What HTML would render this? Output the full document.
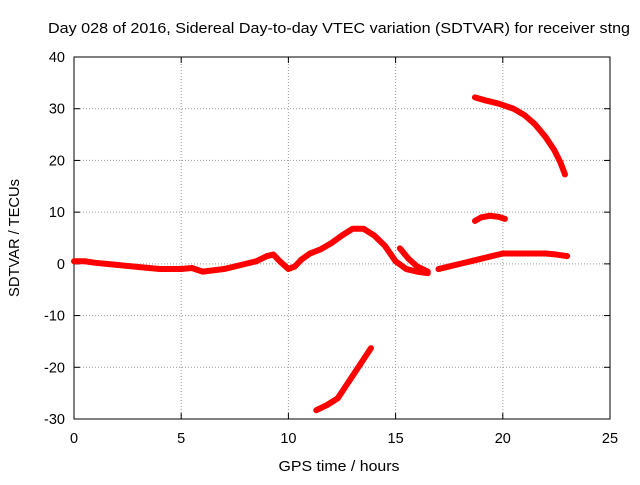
<!DOCTYPE html>
<html><head><meta charset="utf-8"><style>
body{margin:0;background:#fff}
text{font-family:"Liberation Sans",sans-serif;font-size:14.5px;fill:#000}
</style></head><body>
<svg width="640" height="480" xmlns="http://www.w3.org/2000/svg">
<rect width="640" height="480" fill="#fff"/>
<text x="339" y="33" text-anchor="middle" textLength="582" lengthAdjust="spacingAndGlyphs">Day 028 of 2016, Sidereal Day-to-day VTEC variation (SDTVAR) for receiver stng</text>
<g id="grid"></g>
<g id="axes"></g>
<g id="series"></g>
<text x="339" y="471" text-anchor="middle" textLength="121" lengthAdjust="spacingAndGlyphs">GPS time / hours</text>
<text transform="translate(19,238) rotate(-90)" text-anchor="middle" textLength="118" lengthAdjust="spacingAndGlyphs">SDTVAR / TECUs</text>
</svg>
<script>
const xTicks=[0,5,10,15,20,25];
const yTicks=[-30,-20,-10,0,10,20,30,40];
const mainHours=[0,0.5,1,2,3,4,5,5.5,6,7,8,8.5,9,9.3,9.6,10,10.3,10.6,11,11.5,12,12.5,13,13.5,14,14.5,15,15.5,16,16.5];
const mainVals=[0.5,0.5,0.2,-0.2,-0.6,-1,-1,-0.8,-1.5,-1,0,0.5,1.5,1.8,0.5,-1,-0.5,0.8,2,2.8,4,5.5,6.8,6.8,5.5,3.5,0.5,-1,-1.5,-1.8];
const branchHours=[15.2,15.6,16,16.5];
const branchVals=[3,1,-0.5,-1.5];
const lateHours=[17,17.5,18,18.5,19,19.5,20,20.5,21,21.5,22,22.5,23];
const lateVals=[-1,-0.5,0,0.5,1,1.5,2,2,2,2,2,1.8,1.5];
const topHours=[18.7,19.2,19.8,20.5,21,21.5,22,22.4,22.7,22.9];
const topVals=[32.2,31.6,31,30,28.8,27,24.5,22,19.5,17.3];
const midHours=[18.7,19,19.4,19.8,20.1];
const midVals=[8.3,9,9.3,9.1,8.7];
const lowHours=[11.3,11.8,12.3,12.7,13.1,13.5,13.85];
const lowVals=[-28.3,-27.3,-26,-23.5,-21,-18.5,-16.3];
const X0=74,X1=610,Y0=419,Y1=57;
const sx=v=>X0+(v-0)/25*(X1-X0);
const sy=v=>Y0-(v+30)/70*(Y0-Y1);
const NS="http://www.w3.org/2000/svg";
function mk(t,a,p){const e=document.createElementNS(NS,t);for(const k in a)e.setAttribute(k,a[k]);p.appendChild(e);return e;}
const grid=document.getElementById('grid'),axes=document.getElementById('axes'),ser=document.getElementById('series');
xTicks.forEach(t=>{
 if(t>0&&t<25){const l=mk('line',{x1:sx(t),x2:sx(t),y1:Y0,y2:Y1,stroke:'#999','stroke-dasharray':'1,2','stroke-width':1},grid);
 }
 const tx=mk('text',{x:sx(t),y:Y0+24,'text-anchor':'middle'},axes);tx.textContent=t;
 
 mk('line',{x1:sx(t),x2:sx(t),y1:Y0,y2:Y0-6,stroke:'#000'},axes);
 mk('line',{x1:sx(t),x2:sx(t),y1:Y1,y2:Y1+6,stroke:'#000'},axes);
});
yTicks.forEach(t=>{
 if(t>-30&&t<40){const l=mk('line',{x1:X0,x2:X1,y1:sy(t),y2:sy(t),stroke:'#999','stroke-dasharray':'1,2','stroke-width':1},grid);
 }
 const tx=mk('text',{x:X0-9,y:sy(t)+5,'text-anchor':'end'},axes);tx.textContent=t;
 
 mk('line',{x1:X0,x2:X0+6,y1:sy(t),y2:sy(t),stroke:'#000'},axes);
 mk('line',{x1:X1,x2:X1-6,y1:sy(t),y2:sy(t),stroke:'#000'},axes);
});
const fr=mk('rect',{x:X0,y:Y1,width:X1-X0,height:Y0-Y1,fill:'none',stroke:'#000'},axes);

function draw(hs,vs,name){
 const p=mk('polyline',{points:hs.map((h,i)=>sx(h)+','+sy(vs[i])).join(' '),fill:'none',stroke:'#f00','stroke-width':6,'stroke-linejoin':'round','stroke-linecap':'round'},ser);
 
}
draw(mainHours,mainVals,'series-main');
draw(branchHours,branchVals,'series-branch');
draw(lateHours,lateVals,'series-late');
draw(topHours,topVals,'series-top');
draw(midHours,midVals,'series-mid');
draw(lowHours,lowVals,'series-low');
</script>
</body></html>
